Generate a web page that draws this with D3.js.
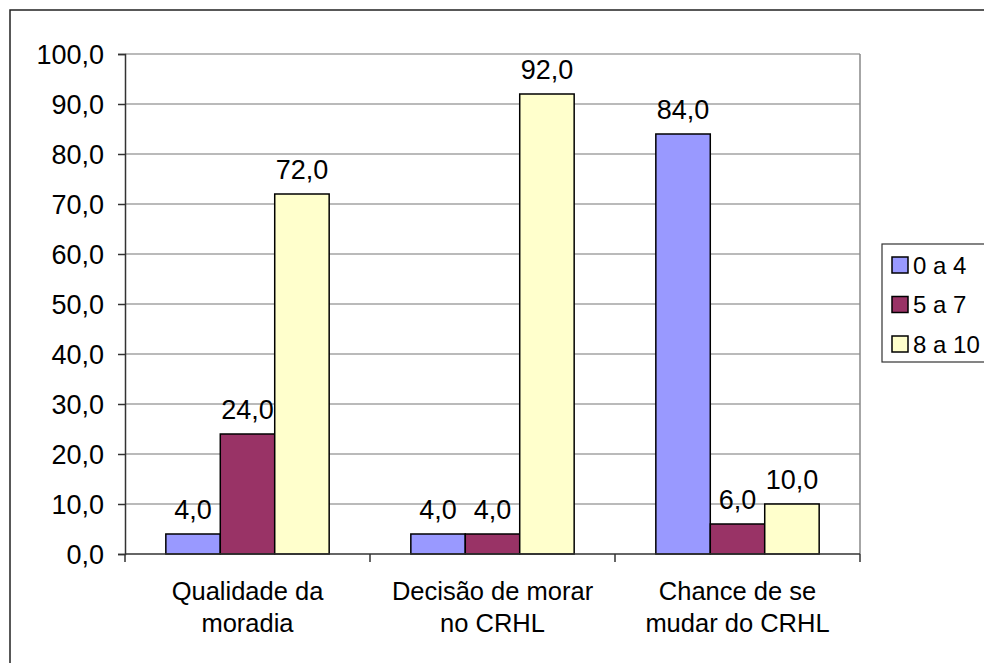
<!DOCTYPE html>
<html>
<head>
<meta charset="utf-8">
<script src="https://cdn.jsdelivr.net/npm/d3@7"></script>
<style>
  html, body { margin: 0; padding: 0; background: #fff; }
  svg { display: block; font-family: Arial, "Liberation Sans", sans-serif; }
</style>
</head>
<body>
<svg id="chart" width="984" height="663"></svg>
<script>
// dados do gráfico
const categorias = [
  ["Qualidade da", "moradia"],
  ["Decisão de morar", "no CRHL"],
  ["Chance de se", "mudar do CRHL"]
];
const series = ["0 a 4", "5 a 7", "8 a 10"];
const valores0a4 = [4.0, 4.0, 84.0];
const valores5a7 = [24.0, 4.0, 6.0];
const valores8a10 = [72.0, 92.0, 10.0];
const ticksY = [0, 10, 20, 30, 40, 50, 60, 70, 80, 90, 100];
const cores = ["#9999ff", "#993366", "#ffffcc"];

const dados = [valores0a4, valores5a7, valores8a10];

// formato pt-BR: 72,0
const fmt = d3.formatLocale({ decimal: ",", thousands: ".", grouping: [3], currency: ["R$", ""] }).format(".1f");

const svg = d3.select("#chart");

// área do gráfico
const plot = { left: 125, right: 860, top: 54, bottom: 554 };

// borda externa (cortada à direita e embaixo)
svg.append("rect")
  .attr("x", 10).attr("y", 10)
  .attr("width", 1000).attr("height", 700)
  .attr("fill", "none")
  .attr("stroke", "#222")
  .attr("stroke-width", 1.5);

const x0 = d3.scaleBand()
  .domain(d3.range(categorias.length))
  .range([plot.left, plot.right]);

const x1 = d3.scaleBand()
  .domain(d3.range(series.length))
  .range([0, x0.bandwidth()])
  .paddingInner(0)
  .paddingOuter(0.75);

const y = d3.scaleLinear().domain([0, 100]).range([plot.bottom, plot.top]);

// linhas de grade
svg.append("g")
  .selectAll("line")
  .data(ticksY.filter((d) => d > 0))
  .join("line")
  .attr("x1", plot.left).attr("x2", plot.right)
  .attr("y1", (d) => y(d)).attr("y2", (d) => y(d))
  .attr("stroke", "#777")
  .attr("stroke-width", 1.2);

// borda direita da área de plotagem
svg.append("line")
  .attr("x1", plot.right).attr("x2", plot.right)
  .attr("y1", plot.top).attr("y2", plot.bottom)
  .attr("stroke", "#888")
  .attr("stroke-width", 1.5);

// barras
const grupos = svg.append("g")
  .selectAll("g")
  .data(series)
  .join("g")
  .attr("fill", (d, i) => cores[i]);

grupos.selectAll("rect")
  .data((d, i) => dados[i].map((v, c) => ({ v, c, s: i })))
  .join("rect")
  .attr("x", (d) => x0(d.c) + x1(d.s))
  .attr("y", (d) => y(d.v))
  .attr("width", x1.bandwidth())
  .attr("height", (d) => y(0) - y(d.v))
  .attr("stroke", "#000")
  .attr("stroke-width", 1.5);

// rótulos de dados
grupos.selectAll("text")
  .data((d, i) => dados[i].map((v, c) => ({ v, c, s: i })))
  .join("text")
  .attr("x", (d) => x0(d.c) + x1(d.s) + x1.bandwidth() / 2)
  .attr("y", (d) => y(d.v) - 15)
  .attr("text-anchor", "middle")
  .attr("fill", "#000")
  .style("font-size", "27px")
  .text((d) => fmt(d.v));

// eixo Y
const eixoY = svg.append("g")
  .attr("transform", `translate(${plot.left},0)`)
  .call(d3.axisLeft(y).tickValues(ticksY).tickSize(7).tickPadding(14).tickFormat(fmt));
eixoY.select(".domain").attr("stroke", "#333").attr("stroke-width", 1.5);
eixoY.selectAll(".tick line").attr("stroke", "#333").attr("stroke-width", 1.5);
eixoY.selectAll(".tick text")
  .attr("fill", "#000")
  .attr("dy", "0.36em")
  .style("font-family", "Arial, 'Liberation Sans', sans-serif")
  .style("font-size", "27px");

// eixo X
const linhaBase = svg.append("g");
linhaBase.append("line")
  .attr("x1", plot.left).attr("x2", plot.right)
  .attr("y1", y(0)).attr("y2", y(0))
  .attr("stroke", "#333")
  .attr("stroke-width", 1.5);
linhaBase.selectAll("line.tick")
  .data(d3.range(categorias.length + 1))
  .join("line")
  .attr("class", "tick")
  .attr("x1", (d) => plot.left + d * x0.step())
  .attr("x2", (d) => plot.left + d * x0.step())
  .attr("y1", y(0)).attr("y2", y(0) + 8)
  .attr("stroke", "#333")
  .attr("stroke-width", 1.5);

// rótulos das categorias
const rotulos = svg.append("g")
  .selectAll("text")
  .data(categorias)
  .join("text")
  .attr("text-anchor", "middle")
  .attr("fill", "#000")
  .style("font-size", "25.5px");
rotulos.selectAll("tspan")
  .data((d, i) => d.map((t) => ({ t, i })))
  .join("tspan")
  .attr("x", (d) => x0(d.i) + x0.bandwidth() / 2)
  .attr("y", (d, j) => 600 + j * 32)
  .text((d) => d.t);

// legenda
const leg = svg.append("g").attr("transform", "translate(882,244)");
leg.append("rect")
  .attr("width", 140).attr("height", 118)
  .attr("fill", "#fff")
  .attr("stroke", "#333")
  .attr("stroke-width", 1.2);
const itens = leg.selectAll("g")
  .data(series)
  .join("g")
  .attr("transform", (d, i) => `translate(0,${21 + i * 39.5})`);
itens.append("rect")
  .attr("x", 10).attr("y", -8)
  .attr("width", 16).attr("height", 16)
  .attr("fill", (d, i) => cores[i])
  .attr("stroke", "#000")
  .attr("stroke-width", 1.5);
itens.append("text")
  .attr("x", 31).attr("y", 0)
  .attr("dy", "0.36em")
  .attr("fill", "#000")
  .style("font-size", "24px")
  .text((d) => d);
</script>
</body>
</html>
